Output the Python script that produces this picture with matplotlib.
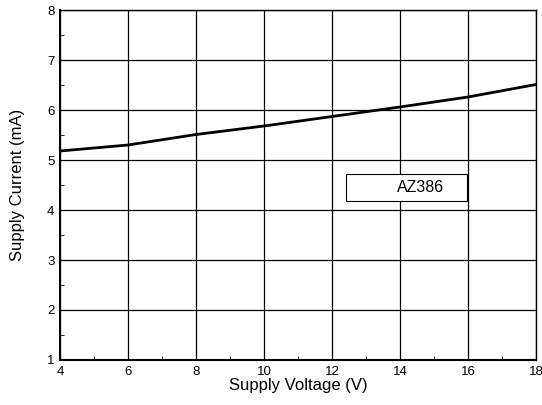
import matplotlib
matplotlib.use('Agg')
from matplotlib import pyplot as plt
from matplotlib.ticker import MultipleLocator

plt.rcParams['font.family'] = ['Liberation Sans', 'DejaVu Sans']

# Supply current vs supply voltage
voltage = [4, 6, 8, 10, 12, 14, 16, 18]
current = [5.18, 5.30, 5.51, 5.68, 5.87, 6.06, 6.26, 6.51]

fig = plt.figure(figsize=(5.42, 4.05), dpi=100)
ax = fig.add_axes([60 / 542, 45 / 405, 476 / 542, 350 / 405])

ax.plot(voltage, current, color='k', linewidth=2)

ax.set_xlim(4, 18)
ax.set_ylim(1, 8)
ax.xaxis.set_major_locator(MultipleLocator(2))
ax.yaxis.set_major_locator(MultipleLocator(1))
ax.xaxis.set_minor_locator(MultipleLocator(1))
ax.yaxis.set_minor_locator(MultipleLocator(0.5))
ax.tick_params(which='both', direction='in', length=3, labelsize=9.5, pad=4)
ax.tick_params(which='major', length=0)
ax.grid(True, which='major', color='k', linewidth=0.9)
for s in ax.spines.values():
    s.set_linewidth(1.0)
ax.spines['left'].set_linewidth(1.5)
ax.spines['bottom'].set_linewidth(1.5)

ax.set_xlabel('Supply Voltage (V)', fontsize=12, labelpad=0)
ax.set_ylabel('Supply Current (mA)', fontsize=12, labelpad=16)

# label box
ax.add_patch(plt.Rectangle((12.41, 4.18), 3.56, 0.54, facecolor='white',
                           edgecolor='k', linewidth=0.8, zorder=3))
ax.text(14.6, 4.45, 'AZ386', fontsize=11.5, ha='center', va='center',
        zorder=4)

fig.savefig('out.png', dpi=100)
